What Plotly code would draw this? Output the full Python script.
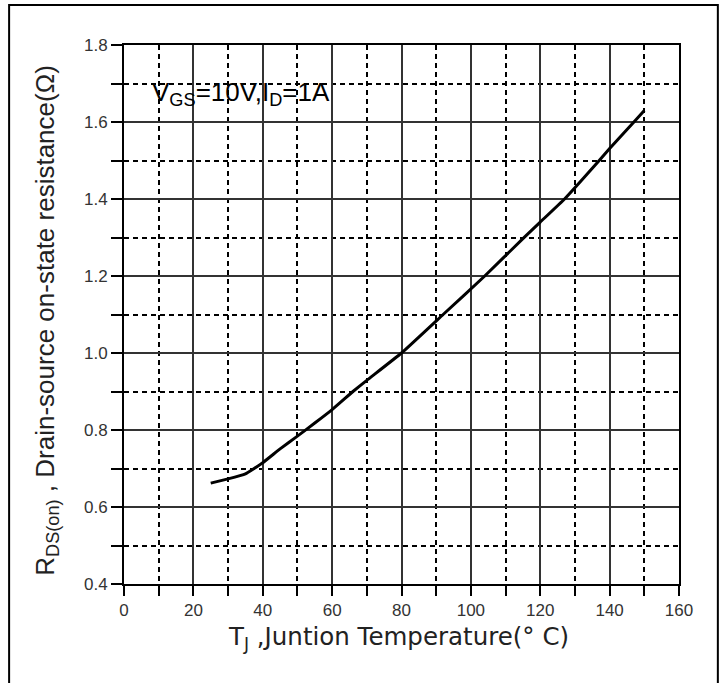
import plotly.graph_objects as go

# Data
temp_c = [25, 30, 35, 40, 45, 50, 55, 60, 66, 70, 80, 92, 104, 115, 120, 127, 137, 140, 147, 150]
rds_on = [0.662, 0.673, 0.686, 0.715, 0.751, 0.784, 0.818, 0.853, 0.90, 0.929, 1.0, 1.1, 1.2,
          1.297, 1.34, 1.4, 1.5, 1.531, 1.6, 1.63]

x_title = "T<sub>J</sub> ,Juntion Temperature(° C)"
y_title = "R<sub>DS(on)</sub> , Drain-source on-state resistance(Ω)"
condition_label = "V<sub>GS</sub>=10V,I<sub>D</sub>=1A"

tick_font = dict(family="Liberation Sans, Arial, sans-serif", size=17, color="#333333")

fig = go.Figure()
fig.add_trace(go.Scatter(x=temp_c, y=rds_on, mode="lines",
                         line=dict(color="black", width=3, shape="spline", smoothing=0.3),
                         showlegend=False, hoverinfo="skip"))

grid_common = dict(
    showgrid=True, gridcolor="#333333", gridwidth=1.5,
    showline=True, linecolor="black", linewidth=2, mirror=True,
    ticks="outside", tickwidth=2, tickcolor="black",
    tickfont=tick_font, zeroline=False, automargin=False,
)
fig.update_xaxes(
    range=[0, 160], tickmode="linear", tick0=0, dtick=20, ticklen=10,
    minor=dict(tickmode="linear", tick0=0, dtick=10, ticks="outside", ticklen=10, tickwidth=2,
               tickcolor="black", showgrid=True, gridcolor="black", gridwidth=1.5,
               griddash="5px,4px"),
    **grid_common,
)
fig.update_yaxes(
    range=[0.4, 1.8], tickmode="linear", tick0=0.4, dtick=0.2, tickformat=".1f", ticklen=11,
    minor=dict(tickmode="linear", tick0=0.4, dtick=0.1, ticks="outside", ticklen=11, tickwidth=2,
               tickcolor="black", showgrid=True, gridcolor="black", gridwidth=1.5,
               griddash="5px,4px"),
    **grid_common,
)

# axis titles (as annotations for exact placement)
fig.add_annotation(x=0.495, y=-0.100, xref="paper", yref="paper", xanchor="center", yanchor="middle",
                   text=x_title, showarrow=False,
                   font=dict(family="DejaVu Sans, Verdana, sans-serif", size=24.5, color="#222222"))
fig.add_annotation(x=-0.139, y=0.49, xref="paper", yref="paper", xanchor="center", yanchor="middle",
                   text=y_title, showarrow=False, textangle=-90,
                   font=dict(family="Liberation Sans, Arial, sans-serif", size=26, color="#222222"))

fig.add_annotation(
    x=7.5, y=1.675, xref="x", yref="y", xanchor="left", yanchor="middle",
    text=condition_label, showarrow=False,
    font=dict(family="Liberation Sans, Arial, sans-serif", size=26, color="black"),
)

# outer frame (bottom edge lies below the visible page, as in the reference)
fig.add_shape(type="rect", xref="paper", yref="paper",
              x0=-0.207, x1=1.070, y0=-0.21, y1=1.074,
              line=dict(color="black", width=2), fillcolor="rgba(0,0,0,0)", layer="below")

fig.update_layout(
    width=726, height=683,
    margin=dict(l=124, r=47, t=45, b=99),
    paper_bgcolor="white", plot_bgcolor="white",
)

fig.write_html("out.html", config={"displayModeBar": False},
               post_script="document.body.style.margin='0';")
